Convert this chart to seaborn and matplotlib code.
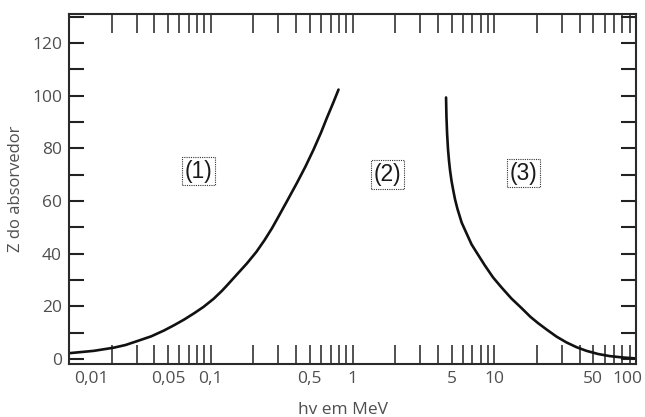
import numpy as np
import pandas as pd
import matplotlib
matplotlib.use("Agg")
import matplotlib.pyplot as plt
import matplotlib.transforms as mtransforms
from matplotlib.ticker import FixedLocator, FixedFormatter, LogLocator, NullFormatter, MultipleLocator
import seaborn as sns

# ---- data ----
left_x = [0.01, 0.015, 0.0207, 0.025, 0.0303, 0.038, 0.0467, 0.055, 0.065, 0.077, 0.089,
          0.105, 0.12, 0.13, 0.15, 0.18, 0.21, 0.24, 0.27, 0.293, 0.34, 0.405, 0.465,
          0.531, 0.6, 0.659, 0.73, 0.797]
left_z = [2.2, 3.1, 4.3, 5.3, 6.8, 8.6, 10.8, 12.8, 15.0, 17.5, 19.8,
          22.9, 25.9, 27.9, 31.6, 36.3, 40.7, 45.2, 49.6, 53.0, 59.3, 66.8, 73.0,
          79.5, 86.0, 91.5, 97.2, 102.3]

right_x = [4.57, 4.60, 4.65, 4.72, 4.80, 4.88, 5.0, 5.14, 5.29, 5.5, 5.89, 6.4, 6.92, 7.5,
           8.59, 9.8, 11.2, 13.2, 15.6, 18.0, 20.4, 23.4, 27.5, 32.3, 38.0, 44.7, 54.0,
           65.3, 80.0, 100.0]
right_z = [99.3, 92.0, 85.5, 79.5, 75.0, 71.5, 67.5, 64.0, 60.6, 57.0, 51.8, 47.5, 43.5, 40.5,
           35.5, 31.0, 27.3, 23.0, 19.3, 16.0, 13.6, 11.2, 8.5, 6.3, 4.5, 3.1, 1.9,
           1.1, 0.6, 0.2]

x_major = [0.01, 0.05, 0.1, 0.5, 1, 5, 10, 50, 100]
x_major_labels = ["0,01", "0,05", "0,1", "0,5", "1", "5", "10", "50", "100"]
y_major = [0, 20, 40, 60, 80, 100, 120]
y_major_labels = ["0", "20", "40", "60", "80", "100", "120"]

region_labels = ["(1)", "(2)", "(3)"]
region_x = [0.082, 1.76, 16.1]
region_z = [71.3, 70.1, 70.6]

x_title = "hv em MeV"
y_title = "Z do absorvedor"

# ---- style ----
sns.set_style("ticks")
plt.rcParams["font.family"] = ["Open Sans", "DejaVu Sans"]

fig = plt.figure(figsize=(6.45, 4.17), dpi=100)
ax = fig.add_axes([69 / 645, 1 - 364 / 417, 567 / 645, 350 / 417])

df = pd.concat([
    pd.DataFrame({"x": left_x, "z": left_z, "seg": "1"}),
    pd.DataFrame({"x": right_x, "z": right_z, "seg": "3"}),
], ignore_index=True)

sns.lineplot(data=df, x="x", y="z", units="seg", estimator=None, sort=False,
             color="#111111", linewidth=1.9, ax=ax, legend=False)

ax.set_xscale("log")
ax.set_xlim(0.01, 100)
ax.set_ylim(-1.9, 131)

# x ticks
ax.xaxis.set_major_locator(FixedLocator(x_major))
ax.xaxis.set_major_formatter(FixedFormatter(x_major_labels))
ax.xaxis.set_minor_locator(LogLocator(base=10, subs=np.arange(2, 10)))
ax.xaxis.set_minor_formatter(NullFormatter())
ax.tick_params(axis="x", which="both", direction="in", top=True, bottom=True,
               length=13.5, width=1.1, color="#222222", labelsize=12.5,
               labelcolor="#4f4f4f", pad=5)

# y ticks
ax.yaxis.set_major_locator(FixedLocator(y_major))
ax.yaxis.set_major_formatter(FixedFormatter(y_major_labels))
ax.yaxis.set_minor_locator(MultipleLocator(10))
ax.tick_params(axis="y", which="both", direction="in", left=True, right=True,
               length=10.8, width=1.5, color="#222222", labelsize=12.5,
               labelcolor="#4f4f4f", pad=5)

# first x label sits just inside the left edge, last one just inside the right
labels = ax.xaxis.get_majorticklabels()
lbl0 = labels[0]
lbl0.set_horizontalalignment("left")
lbl0.set_transform(lbl0.get_transform() + mtransforms.ScaledTranslation(5 / 100, 0, fig.dpi_scale_trans))
lblN = labels[-1]
lblN.set_transform(lblN.get_transform() + mtransforms.ScaledTranslation(-9 / 100, 0, fig.dpi_scale_trans))

for s in ax.spines.values():
    s.set_visible(True)
    s.set_linewidth(1.5)
    s.set_color("#2a2a2a")

ax.set_xlabel(x_title, fontsize=12.5, color="#4f4f4f")
ax.set_ylabel(y_title, fontsize=12, color="#4f4f4f", labelpad=6)
ax.xaxis.set_label_coords(0.483, -0.108)

for t, xx, zz in zip(region_labels, region_x, region_z):
    ax.text(xx, zz, t, fontsize=16.5, color="#1a1a1a", ha="center", va="center",
            family=["Liberation Sans", "DejaVu Sans"],
            bbox=dict(boxstyle="square,pad=0.12", fc="none", ec="#333333",
                      ls=(0, (1, 1)), lw=0.8))

fig.savefig("out.png", dpi=100, facecolor="white")
